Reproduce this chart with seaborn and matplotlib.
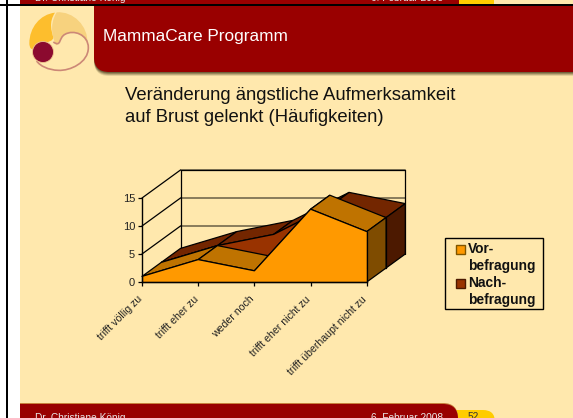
import numpy as np
import pandas as pd
import matplotlib
matplotlib.use("Agg")
import matplotlib.pyplot as plt
import seaborn as sns
from matplotlib.patches import FancyBboxPatch, Rectangle, Circle, PathPatch, Patch
from matplotlib.legend_handler import HandlerPatch
from matplotlib.path import Path
from matplotlib.transforms import ScaledTranslation

categories = ["trifft völlig zu", "trifft eher zu", "weder noch",
              "trifft eher nicht zu", "trifft überhaupt nicht zu"]
vor = [1, 4, 2, 13, 9]
nach = [1, 4, 6, 11, 9]
value_ticks = [0, 5, 10, 15]
series_names = ["Vor-\nbefragung", "Nach-\nbefragung"]

RED = "#990000"
CREAM = "#FFE8AD"
W, H = 573, 418

sns.set_theme(style="white")
plt.rcParams["font.family"] = ["Liberation Sans", "DejaVu Sans"]

fig = plt.figure(figsize=(W / 100, H / 100), dpi=100, facecolor="white")

# slide background, in pixels
bg = fig.add_axes([0, 0, 1, 1])
bg.set_xlim(0, W)
bg.set_ylim(H, 0)
bg.axis("off")
bg.add_patch(Rectangle((20, 6), W, H, fc=CREAM, ec="none"))

# header
for off, alpha in [(4, 0.15), (3, 0.25), (2, 0.35), (1, 0.5)]:
    bg.add_patch(FancyBboxPatch((94 + 15, -30), W, 102 + off - 15,
                                boxstyle="round,pad=15,rounding_size=15",
                                fc="#504020", ec="none", alpha=alpha))
bg.add_patch(FancyBboxPatch((94 + 15, -30), W, 102 - 15,
                            boxstyle="round,pad=15,rounding_size=15", fc=RED, ec="none"))


def logo_path(start, curves):
    pts = [start] + [p for c in curves for p in c]
    verts = [(20 + x / 3, 6 + y / 3) for x, y in pts]
    return Path(verts, [Path.MOVETO] + [Path.CURVE4] * (len(verts) - 1))


bg.add_patch(PathPatch(logo_path((105, 20), [[(60, 25), (28, 65), (28, 112)],
                                             [(28, 125), (35, 135), (42, 125)],
                                             [(60, 105), (95, 115), (100, 95)],
                                             [(95, 75), (85, 50), (105, 20)]]),
                       fc="#FDBE2D", ec="none"))
bg.add_patch(PathPatch(logo_path((110, 19), [[(160, 15), (205, 60), (202, 112)],
                                             [(190, 85), (160, 70), (135, 85)],
                                             [(120, 95), (120, 115), (108, 118)],
                                             [(100, 100), (85, 60), (110, 19)]]),
                       fc="#F7D27E", ec="none"))
bg.add_patch(PathPatch(logo_path((100, 108), [[(125, 125), (115, 95), (135, 85)],
                                              [(160, 70), (205, 85), (205, 125)],
                                              [(205, 170), (150, 195), (115, 193)],
                                              [(85, 192), (60, 180), (50, 165)]]),
                       fc="none", ec="#CC8877", lw=1.2))
bg.add_patch(Circle((43, 52), 10.5, fc="#8B0A2F", ec="#F0C890", lw=0.6))

bg.text(103, 40.5, "MammaCare Programm", color="white", fontsize=12.4, va="baseline", ha="left")
bg.text(125, 100, "Veränderung ängstliche Aufmerksamkeit", color="#111111", fontsize=13.3, va="baseline")
bg.text(125, 122, "auf Brust gelenkt (Häufigkeiten)", color="#111111", fontsize=13.3, va="baseline")

# footer
bg.add_patch(FancyBboxPatch((440, 410 + 12), 43, 20, boxstyle="round,pad=12,rounding_size=12",
                            fc="#FFCC00", ec="none"))
bg.add_patch(FancyBboxPatch((0, 403 + 15), 443, 30, boxstyle="round,pad=15,rounding_size=15",
                            fc="#C8803C", ec="none"))
bg.add_patch(FancyBboxPatch((0, 404 + 15), 443, 30, boxstyle="round,pad=15,rounding_size=15",
                            fc=RED, ec="none"))
bg.text(35, 421, "Dr. Christiane König", color="#E8E8E8", fontsize=7.3, va="baseline", clip_on=True)
bg.text(371, 421, "6. Februar 2008", color="#E8E8E8", fontsize=7.3, va="baseline", clip_on=True)
bg.text(468, 420, "52", color="#333333", fontsize=7.3, va="baseline", clip_on=True)

# previous slide's footer and the border, at the top left
bg.add_patch(Rectangle((459, 0), 35, 4, fc="#FFCC00", ec="none"))
bg.add_patch(Rectangle((494, 0), 80, 4, fc=CREAM, ec="none"))
bg.add_patch(Rectangle((20, 0), 439, 4, fc=RED, ec="none"))
bg.text(35, 1, "Dr. Christiane König", color="#E8E8E8", fontsize=7.3, va="baseline", clip_on=True)
bg.text(371, 1, "6. Februar 2008", color="#E8E8E8", fontsize=7.3, va="baseline", clip_on=True)
bg.add_patch(Rectangle((0, 4), W, 2, fc="black", ec="none"))
bg.add_patch(Rectangle((0, 6), 20, H, fc="white", ec="none"))
bg.add_patch(Rectangle((6, 0), 1.5, H, fc="black", ec="none"))

# legend frame
bg.add_patch(Rectangle((445, 238), 98, 71, fc=CREAM, ec="black", lw=1.0))

# chart axes: one category is 56.2 px, one unit of value 5.6 px
XPX, YPX = 56.2, 5.6
x0, x1, y0, y1 = -0.5, 5.0, -1.0, 23.0
ax = fig.add_axes([(142 + x0 * XPX) / W, (H - 282 + y0 * YPX) / H,
                   (x1 - x0) * XPX / W, (y1 - y0) * YPX / H])
ax.set_xlim(x0, x1)
ax.set_ylim(y0, y1)
ax.patch.set_alpha(0)

# oblique depth: the back wall is this far away, in data units
DX, DY = 38.5 / XPX, 5.0
idx = np.arange(len(categories))
LW = 0.9


def shift(x, y, d):
    return np.asarray(x, float) + d * DX, np.asarray(y, float) + d * DY


# walls
for v in value_ticks[1:]:
    bx, by = shift([0, 4], [v, v], 1)
    ax.plot(bx, by, color="#7F7355", lw=1.3, zorder=1)
    sx, sy = shift([0, 0], [v, v], 0)
    ax.plot([sx[0], bx[0]], [sy[0], by[0]], color="black", lw=LW, zorder=1)
tx, ty = shift([0, 4], [15, 15], 1)
ax.plot(tx, ty, color="black", lw=LW, zorder=1)
wx, wy = shift([0, 0], [0, 15], 1)
ax.plot(wx, wy, color="black", lw=LW, zorder=1)
wx, wy = shift([4, 4], [0, 15], 1)
ax.plot(wx, wy, color="black", lw=LW, zorder=1)


def draw_series(values, d_front, d_back, front, top, side, z):
    vals = np.asarray(values, float)
    for i in range(len(vals) - 1):
        fx, fy = shift(idx[i:i + 2], vals[i:i + 2], d_front)
        bx, by = shift(idx[i:i + 2], vals[i:i + 2], d_back)
        ax.fill([fx[0], fx[1], bx[1], bx[0]], [fy[0], fy[1], by[1], by[0]],
                fc=top, ec="black", lw=LW, zorder=z)
    # right side
    ex, ey = shift([idx[-1]] * 2, [0, vals[-1]], d_front)
    gx, gy = shift([idx[-1]] * 2, [0, vals[-1]], d_back)
    ax.fill([ex[0], ex[1], gx[1], gx[0]], [ey[0], ey[1], gy[1], gy[0]],
            fc=side, ec="black", lw=LW, zorder=z)
    # front
    px, py = shift(idx, vals, d_front)
    bx, by = shift(idx, np.zeros(len(idx)), d_front)
    ax.fill(np.r_[px, bx[::-1]], np.r_[py, by[::-1]], fc=front, ec="none", zorder=z + 0.5)
    df = pd.DataFrame({"x": px, "y": py})
    sns.lineplot(data=df, x="x", y="y", color="black", lw=LW, ax=ax, zorder=z + 0.6)
    ax.plot([px[0], bx[0]], [py[0], by[0]], color="black", lw=LW, zorder=z + 0.6)
    ax.plot([px[-1], bx[-1]], [py[-1], by[-1]], color="black", lw=LW, zorder=z + 0.6)
    ax.plot(bx, by, color="black", lw=LW, zorder=z + 0.6)


draw_series(nach, 0.5, 1.0, "#993300", "#732600", "#4C1900", 2)
draw_series(vor, 0.0, 0.5, "#FF9900", "#BF7300", "#7F4C00", 3)

# axes
sns.despine(ax=ax, top=True, right=True)
ax.spines["left"].set_position(("data", 0))
ax.spines["left"].set_bounds(0, 15)
ax.spines["bottom"].set_position(("data", 0))
ax.spines["bottom"].set_bounds(0, 4)
for s in ["left", "bottom"]:
    ax.spines[s].set_color("black")
    ax.spines[s].set_linewidth(1.0)
    ax.spines[s].set_zorder(5)
ax.set_xlabel("")
ax.set_ylabel("")
ax.set_xticks(idx)
ax.set_xticklabels(categories, rotation=45, ha="right", va="top", rotation_mode="anchor",
                   fontsize=7.6, color="#222222")
ax.set_yticks(value_ticks)
ax.set_yticklabels([str(v) for v in value_ticks], fontsize=8, color="#222222")
ax.tick_params(axis="both", which="major", bottom=True, left=True, length=3, width=0.9, color="black", pad=2)
ax.tick_params(axis="x", pad=5)
nudge = ScaledTranslation(-5 / 100, -1 / 100, fig.dpi_scale_trans)
for lab in ax.get_xticklabels():
    lab.set_transform(lab.get_transform() + nudge)


# legend keys sit next to the first line of each label
def first_line_key(legend, orig_handle, xdescent, ydescent, width, height, fontsize):
    return Rectangle((-xdescent, -ydescent + 0.6 * fontsize), width, height)


handles = [Patch(fc="#FF9900", ec="#7F5500", lw=1), Patch(fc="#993300", ec="#4C1900", lw=1)]
leg = fig.legend(handles, series_names, loc="upper left",
                 bbox_to_anchor=(455.7 / W, 1 - 242 / H), bbox_transform=fig.transFigure,
                 frameon=False, handlelength=0.66, handleheight=0.66, handletextpad=0.22,
                 labelspacing=0.22, borderpad=0, borderaxespad=0,
                 prop={"weight": "bold", "size": 9.9},
                 handler_map={Patch: HandlerPatch(patch_func=first_line_key)})
for t in leg.get_texts():
    t.set_linespacing(1.25)
    t.set_color("#111111")

fig.savefig("out.png", dpi=100)
